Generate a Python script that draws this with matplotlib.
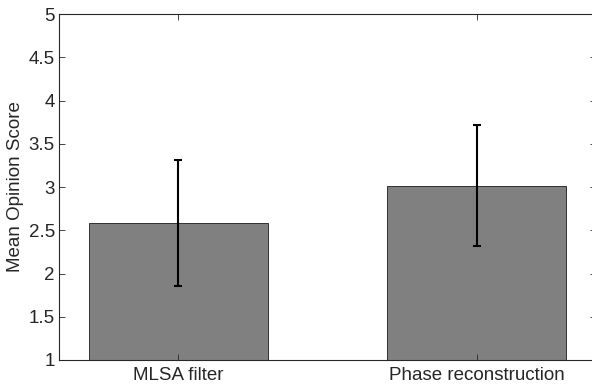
import matplotlib
matplotlib.use("Agg")
import matplotlib.pyplot as plt

plt.rcParams["font.family"] = ["Liberation Sans", "DejaVu Sans"]

categories = ["MLSA filter", "Phase reconstruction"]
mos_mean = [2.58, 3.01]
err_low = [1.86, 2.32]
err_high = [3.31, 3.72]

positions = [1, 2]
yerr = [[m - lo for m, lo in zip(mos_mean, err_low)],
        [hi - m for m, hi in zip(mos_mean, err_high)]]

fig = plt.figure(figsize=(5.92, 3.9), dpi=100)
ax = fig.add_axes([59 / 592, 30 / 390, 537 / 592, 346 / 390])

ax.bar(positions, [m - 1 for m in mos_mean], bottom=1, width=0.6,
       color="#808080", edgecolor="#1a1a1a", linewidth=0.6)
ax.errorbar(positions, mos_mean, yerr=yerr, fmt="none", ecolor="black",
            elinewidth=1.5, capsize=3, capthick=1.5)

ax.set_xlim(0.6, 2.4)
ax.set_ylim(1, 5)
ax.set_yticks([1, 1.5, 2, 2.5, 3, 3.5, 4, 4.5, 5])
ax.set_yticklabels(["1", "1.5", "2", "2.5", "3", "3.5", "4", "4.5", "5"])
ax.set_xticks(positions)
ax.set_xticklabels(categories)
ax.set_ylabel("Mean Opinion Score", fontsize=13.5, color="#262626")
ax.yaxis.set_label_coords(-0.066, 0.5)

ax.tick_params(direction="in", top=True, right=True, length=4, width=0.6,
               labelsize=13.5, colors="#262626", pad=3)
ax.tick_params(axis="x", pad=5)
for s in ax.spines.values():
    s.set_linewidth(0.8)
    s.set_color("#262626")

fig.savefig("out.png", dpi=100)
